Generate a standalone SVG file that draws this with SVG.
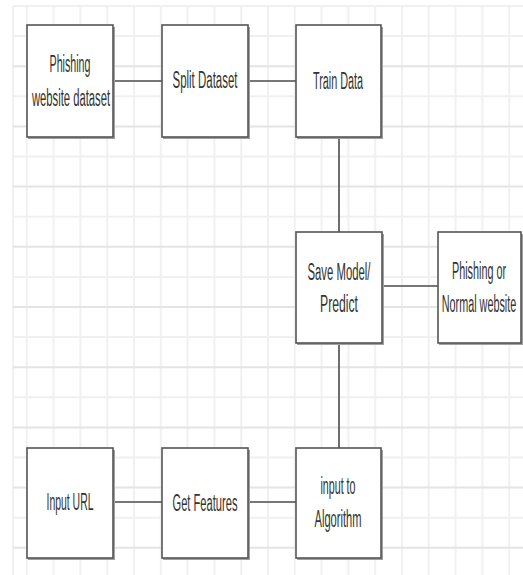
<svg xmlns="http://www.w3.org/2000/svg" width="523" height="575" viewBox="0 0 523 575">
<style>
.bg{fill:#ffffff}
.gv{stroke:#f1f1f1;stroke-width:2}
.gh{stroke:#f0f0f0;stroke-width:2}
.gH{stroke:#e4e4e4;stroke-width:2}
.box{fill:#ffffff;stroke:#555555;stroke-width:1.6}
.sh{fill:none;stroke:#a0a0a0;stroke-width:2}
.lbl{font-family:"Liberation Sans",Arial,sans-serif;font-size:23px;fill:#333333;text-anchor:middle}
.edge{stroke:#4a4a4a;stroke-width:1.6;fill:none}
</style>
<rect class="bg" x="0" y="0" width="523" height="575"/>
<g id="grid">
<g id="grid-v">
<line class="gv" x1="13" y1="6" x2="13" y2="575"/>
<line class="gv" x1="26.8" y1="6" x2="26.8" y2="575"/>
<line class="gv" x1="53.6" y1="6" x2="53.6" y2="575"/>
<line class="gv" x1="80.4" y1="6" x2="80.4" y2="575"/>
<line class="gv" x1="107.2" y1="6" x2="107.2" y2="575"/>
<line class="gv" x1="134" y1="6" x2="134" y2="575"/>
<line class="gv" x1="160.8" y1="6" x2="160.8" y2="575"/>
<line class="gv" x1="187.6" y1="6" x2="187.6" y2="575"/>
<line class="gv" x1="214.4" y1="6" x2="214.4" y2="575"/>
<line class="gv" x1="241.2" y1="6" x2="241.2" y2="575"/>
<line class="gv" x1="268" y1="6" x2="268" y2="575"/>
<line class="gv" x1="294.8" y1="6" x2="294.8" y2="575"/>
<line class="gv" x1="321.6" y1="6" x2="321.6" y2="575"/>
<line class="gv" x1="348.4" y1="6" x2="348.4" y2="575"/>
<line class="gv" x1="375.2" y1="6" x2="375.2" y2="575"/>
<line class="gv" x1="402" y1="6" x2="402" y2="575"/>
<line class="gv" x1="428.8" y1="6" x2="428.8" y2="575"/>
<line class="gv" x1="455.6" y1="6" x2="455.6" y2="575"/>
<line class="gv" x1="482.4" y1="6" x2="482.4" y2="575"/>
<line class="gv" x1="509.2" y1="6" x2="509.2" y2="575"/>
</g>
<g id="grid-h">
<line class="gh" x1="13" y1="6" x2="523" y2="6"/>
<line class="gh" x1="13" y1="36.1" x2="523" y2="36.1"/>
<line class="gH" x1="13" y1="66.2" x2="523" y2="66.2"/>
<line class="gh" x1="13" y1="96.3" x2="523" y2="96.3"/>
<line class="gH" x1="13" y1="126.4" x2="523" y2="126.4"/>
<line class="gh" x1="13" y1="156.5" x2="523" y2="156.5"/>
<line class="gH" x1="13" y1="186.6" x2="523" y2="186.6"/>
<line class="gh" x1="13" y1="216.7" x2="523" y2="216.7"/>
<line class="gH" x1="13" y1="246.8" x2="523" y2="246.8"/>
<line class="gh" x1="13" y1="276.9" x2="523" y2="276.9"/>
<line class="gH" x1="13" y1="307" x2="523" y2="307"/>
<line class="gh" x1="13" y1="337.1" x2="523" y2="337.1"/>
<line class="gH" x1="13" y1="367.2" x2="523" y2="367.2"/>
<line class="gh" x1="13" y1="397.3" x2="523" y2="397.3"/>
<line class="gH" x1="13" y1="427.4" x2="523" y2="427.4"/>
<line class="gh" x1="13" y1="457.5" x2="523" y2="457.5"/>
<line class="gH" x1="13" y1="487.6" x2="523" y2="487.6"/>
<line class="gh" x1="13" y1="517.7" x2="523" y2="517.7"/>
<line class="gH" x1="13" y1="547.8" x2="523" y2="547.8"/>
</g>
</g>
<g id="connectors">
<line class="edge" x1="113" y1="81" x2="162" y2="81"/>
<line class="edge" x1="248" y1="81" x2="296" y2="81"/>
<line class="edge" x1="339" y1="137" x2="339" y2="232"/>
<line class="edge" x1="382" y1="286" x2="438" y2="286"/>
<line class="edge" x1="339" y1="343" x2="339" y2="448"/>
<line class="edge" x1="113" y1="502" x2="162" y2="502"/>
<line class="edge" x1="248" y1="502" x2="296" y2="502"/>
</g>
<g id="node-dataset">
<path class="sh" d="M28 138 H114 V27"/>
<rect class="box" x="27" y="25" width="86" height="112"/>
<text class="lbl" x="70" y="72" textLength="41" lengthAdjust="spacingAndGlyphs">Phishing</text>
<text class="lbl" x="71" y="106" textLength="78" lengthAdjust="spacingAndGlyphs">website dataset</text>
</g>
<g id="node-split">
<path class="sh" d="M163 138 H249 V27"/>
<rect class="box" x="162" y="25" width="86" height="112"/>
<text class="lbl" x="205" y="88" textLength="65" lengthAdjust="spacingAndGlyphs">Split Dataset</text>
</g>
<g id="node-train">
<path class="sh" d="M297 138 H382 V27"/>
<rect class="box" x="296" y="25" width="85" height="112"/>
<text class="lbl" x="338" y="89" textLength="50" lengthAdjust="spacingAndGlyphs">Train Data</text>
</g>
<g id="node-save">
<path class="sh" d="M297 344 H383 V234"/>
<rect class="box" x="296" y="232" width="86" height="111"/>
<text class="lbl" x="339" y="280" textLength="63" lengthAdjust="spacingAndGlyphs">Save Model/</text>
<text class="lbl" x="339" y="312" textLength="38" lengthAdjust="spacingAndGlyphs">Predict</text>
</g>
<g id="node-result">
<path class="sh" d="M439 344 H522 V234"/>
<rect class="box" x="438" y="232" width="83" height="111"/>
<g transform="translate(479,0) scale(0.47,1)">
<text class="lbl" x="0" y="279">Phishing or</text>
<text class="lbl" x="0" y="312">Normal website</text>
</g>
</g>
<g id="node-url">
<path class="sh" d="M28 559 H114 V450"/>
<rect class="box" x="27" y="448" width="86" height="110"/>
<text class="lbl" x="70" y="510" textLength="47" lengthAdjust="spacingAndGlyphs">Input URL</text>
</g>
<g id="node-features">
<path class="sh" d="M163 559 H249 V450"/>
<rect class="box" x="162" y="448" width="86" height="110"/>
<text class="lbl" x="205" y="511" textLength="65" lengthAdjust="spacingAndGlyphs">Get Features</text>
</g>
<g id="node-algorithm">
<path class="sh" d="M297 559 H382 V450"/>
<rect class="box" x="296" y="448" width="85" height="110"/>
<text class="lbl" x="338" y="494" textLength="35" lengthAdjust="spacingAndGlyphs">input to</text>
<text class="lbl" x="338" y="527" textLength="47" lengthAdjust="spacingAndGlyphs">Algorithm</text>
</g>
</svg>
